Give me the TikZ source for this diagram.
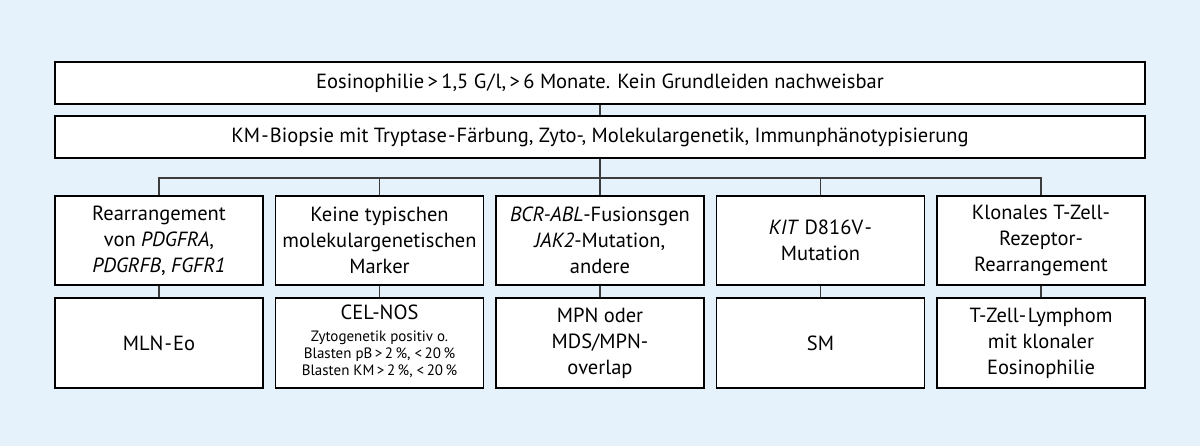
\documentclass[tikz,border=0pt]{standalone}
\usepackage{fontspec}
\setmainfont{PT Sans}
\definecolor{bgblue}{RGB}{230,242,251}
\definecolor{linegray}{RGB}{60,60,60}
\newcommand\smtxt{\fontsize{15}{17}\selectfont}
\newcommand\hy{\kern1.2pt-\kern1.2pt}
\begin{document}
\begin{tikzpicture}[x=1pt,y=-1pt,
  box/.style={draw=black, line width=1.3pt, fill=white, inner sep=0pt, align=center,
    font=\fontsize{20.5}{26}\selectfont},
  wide/.style={box, minimum width=1090pt, minimum height=42pt},
  cell/.style={box, minimum width=208pt, minimum height=89pt},
  conn/.style={draw=linegray, line width=1.2pt}]
\fill[bgblue] (0,0) rectangle (1200,446);
\useasboundingbox (0,0) rectangle (1200,446);
\node[wide] (top) at (600,83) {Eosinophilie\,>\,1,5 G\kern1pt/\kern1pt l,\,>\,6 Monate. Kein Grundleiden nachweisbar};
\node[wide] (bio) at (600,137) {KM\hy Biopsie mit Tryptase\hy Färbung, Zyto-, Molekulargenetik, Immunphänotypisierung};
\node[cell] (r1) at (159,240.5) {Rearrangement\\von \textit{PDGFRA},\\\textit{PDGRFB}, \textit{FGFR1}};
\node[cell] (r2) at (379.5,240.5) {Keine typischen\\molekulargenetischen\\Marker};
\node[cell] (r3) at (600,240.5) {\textit{BCR-ABL}-Fusionsgen\\\textit{JAK2}-Mutation,\\andere};
\node[cell] (r4) at (820.5,240.5) {\textit{KIT} D816V\kern1.5pt-\\Mutation};
\node[cell] (r5) at (1041,240.5) {Klonales T-Zell-\\Rezeptor-\\Rearrangement};
\node[cell, minimum height=90pt] (d1) at (159,343) {MLN\hy Eo};
\node[cell, minimum height=90pt] (d2) at (379.5,343) {CEL-NOS\\[-4pt]\smtxt\begin{tabular}[t]{@{}c@{}}Zytogenetik positiv o.\\Blasten pB\,>\,2\,\%, <\,20\,\%\\Blasten KM\,>\,2\,\%, <\,20\,\%\end{tabular}};
\node[cell, minimum height=90pt] (d3) at (600,343) {MPN oder\\MDS/MPN-\\overlap};
\node[cell, minimum height=90pt] (d4) at (820.5,343) {SM};
\node[cell, minimum height=90pt] (d5) at (1041,343) {T-Zell-\kern1.5pt Lymphom\\mit klonaler\\Eosinophilie};
\coordinate (junc) at (600,178);
\draw[conn] (top.south) -- (bio.north);
\draw[conn] (bio.south) -- (junc);
\draw[conn] (r1.north) -- (r1.north |- junc) -- (r5.north |- junc) -- (r5.north);
\foreach \i in {2,3,4} {\draw[conn] (r\i.north) -- (r\i.north |- junc);}
\foreach \i in {1,...,5} {\draw[conn] (r\i.south) -- (d\i.north);}
\end{tikzpicture}
\end{document}
